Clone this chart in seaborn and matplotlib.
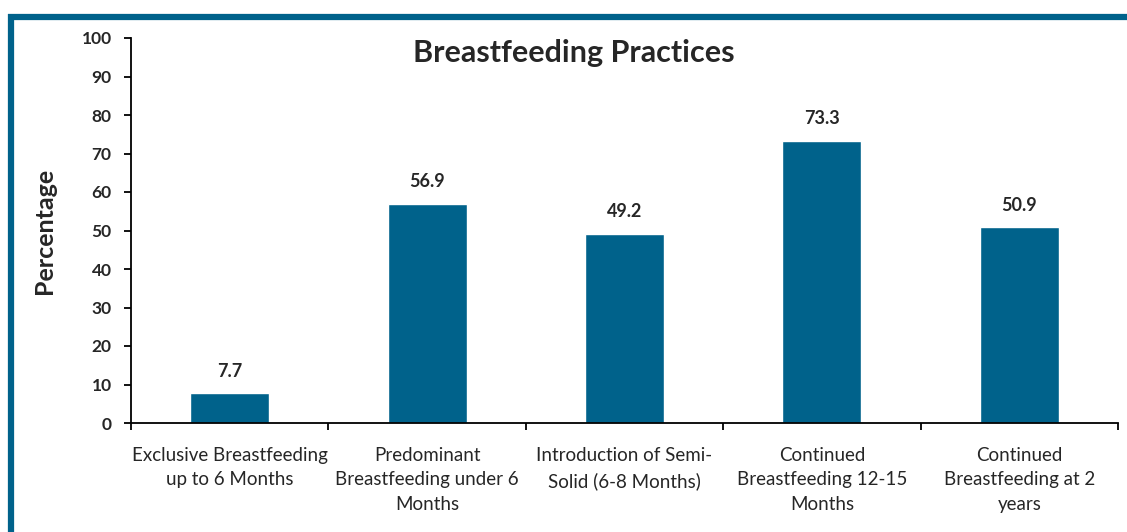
import matplotlib
matplotlib.use("Agg")
import matplotlib.pyplot as plt
import seaborn as sns
import pandas as pd
from matplotlib.lines import Line2D

categories = ["Exclusive Breastfeeding\nup to 6 Months",
              "Predominant\nBreastfeeding under 6\nMonths",
              "Introduction of Semi-\nSolid (6-8 Months)",
              "Continued\nBreastfeeding 12-15\nMonths",
              "Continued\nBreastfeeding at 2\nyears"]
values = [7.7, 56.9, 49.2, 73.3, 50.9]
yticks = list(range(0, 101, 10))

bar_color = "#00628B"

sns.set_style("white")
plt.rcParams['font.family'] = ['Lato', 'DejaVu Sans']

df = pd.DataFrame({"cat": categories, "val": values})

fig = plt.figure(figsize=(11.27, 5.32), dpi=100)
ax = fig.add_axes([131/1127, 1 - 423/532, (1118-131)/1127, (423-38)/532])

sns.barplot(data=df, x="cat", y="val", ax=ax, color=bar_color, width=0.4, saturation=1)

ax.set_ylim(0, 100)
ax.set_xlim(-0.5, len(categories) - 0.5)
ax.set_yticks(yticks)
ax.set_yticklabels([str(t) for t in yticks], fontweight="bold", fontsize=12.5)
ax.set_xticks(range(len(categories)))
ax.set_xticklabels(categories, fontsize=13.5, color="#262626", linespacing=1.55)
ax.set_xticks([i - 0.5 for i in range(len(categories) + 1)], minor=True)
ax.tick_params(axis="x", which="major", bottom=False, length=0, pad=17)
ax.tick_params(axis="x", which="minor", bottom=True, length=5, width=1.3,
               color="black", direction="out")
ax.tick_params(axis="y", left=True, length=5, width=1.3, color="black",
               direction="out", pad=9)

for s in ["top", "right"]:
    ax.spines[s].set_visible(False)
for s in ["left", "bottom"]:
    ax.spines[s].set_color("black")
    ax.spines[s].set_linewidth(1.3)

ax.set_xlabel("")
ax.set_ylabel("Percentage", fontsize=18, fontweight="bold", labelpad=18)

for i, v in enumerate(values):
    ax.text(i, v + 3.5, f"{v:.1f}", ha="center", va="bottom", fontsize=13, fontweight="bold")

fig.text(574/1127, 1 - 53/532, "Breastfeeding Practices", ha="center", va="center",
         fontsize=22, fontweight="bold")

# frame border (top and left edges)
fig.add_artist(Line2D([8/1127, 1], [1 - 17/532, 1 - 17/532], color=bar_color, linewidth=4.5,
                      solid_capstyle="butt", transform=fig.transFigure))
fig.add_artist(Line2D([11/1127, 11/1127], [0, 1 - 14/532], color=bar_color, linewidth=4.5,
                      solid_capstyle="butt", transform=fig.transFigure))

fig.savefig("out.png", dpi=100)
